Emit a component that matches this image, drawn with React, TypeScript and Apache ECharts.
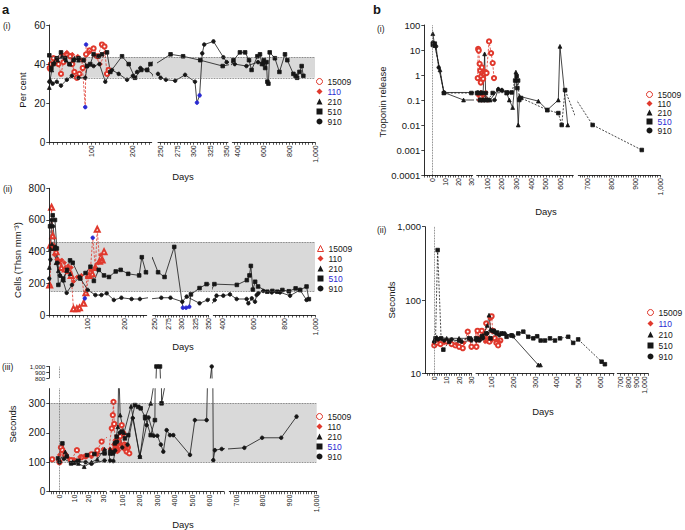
import React, { useEffect, useRef } from "react";
import * as echarts from "echarts";

const FONT = "'Liberation Sans', Arial, Helvetica, sans-serif";
const RED = "#e0392d";
const BLUE = "#2a2ad2";
const INK = "#161616";
const BAND_FILL = "#d9d9d9";

const SERIES_NAMES = ["15009", "110", "210", "510", "910"];

// ---------------- a(i) : Per cent ----------------
const AI_Y_TICKS = [0, 20, 40, 60];
const AI_BAND = [33, 43.5];
const AI_X1 = [100, 200];
const AI_X2 = [250, 275, 300, 325, 350];
const AI_X3 = [400, 600, 800, 1000];
const AI_15009 = [[1,38],[4,40],[10,43],[16,41],[22,40],[28,35],[34,41],[42,45],[50,44],[55,40],[60,36],[66,33],[72,35],[80,38],[88,45],[96,47],[106,48],[116,44],[126,50],[132,49],[138,35],[142,37]];
const AI_110 = [[1,37],[8,40],[18,43],[30,45],[42,46],[55,45],[68,44],[78,42],[86,18],[88,50],[96,46],[110,44],[122,40],[134,46]];
const AI_110_BLUE = [86, 88];
const AI_210 = [[0,28],[2,32],[6,37],[12,41],[20,42],[30,44],[40,42],[50,40],[60,43],[70,42]];
const AI_510 = [[0,44.5],[5,38],[10,40],[18,43],[28,46],[38,43],[48,40],[58,42],[70,43],[82,42],[90,39],[98,40],[106,45],[118,44],[126,45],[138,46],[146,36],[174,44],[190,40],[205,33],[220,37],[234,37],[242,40],[265,45],[284,44],[310,42],[344,39],[358,40],[370,42],[420,46],[460,46],[490,42],[510,37],[555,44],[575,45],[590,40],[605,42],[615,38],[625,41],[632,31],[640,30],[650,46],[690,43],[725,36],[768,45],[786,42],[833,35],[850,34],[862,33],[880,36],[897,39],[910,34]];
const AI_910 = [[0,31],[8,30],[18,31],[28,29],[42,32],[54,34],[70,33],[86,33],[91,39],[106,39],[120,40],[134,31],[150,37],[166,35],[186,32],[200,34],[210,36],[218,38],[234,37],[246,35],[250,33],[258,32],[272,31.5],[287,34.5],[302,31],[305,20.3],[309,24],[313,45.5],[316,50],[330,51.6],[345,43.5],[350,41],[380,40],[470,39],[560,41],[600,40]];
const AI_910_BLUE = [305, 309];

// ---------------- a(ii) : Cells ----------------
const AII_Y_TICKS = [0, 200, 400, 600, 800];
const AII_BAND = [150, 460];
const AII_X1 = [100, 200];
const AII_X2 = [250, 275, 300, 325, 350];
const AII_X3 = [400, 600, 800, 1000];
const AII_15009 = [[1,190],[3,440],[6,680],[9,500],[13,430],[18,400],[24,340],[32,300],[42,290],[52,280],[58,250],[64,40],[73,40],[80,45],[91,74],[97,140],[105,250],[114,260],[122,300],[127,542],[133,340],[140,347],[145,400]];
const AII_110 = [[2,189],[4,440],[8,420],[14,380],[20,350],[28,340],[33,347],[40,330],[50,310],[58,300],[64,211],[74,240],[85,250],[94,105],[100,240],[109,284],[115,488],[122,300],[130,330],[136,379],[140,350]];
const AII_110_BLUE = [94, 115];
const AII_210 = [[0,300],[3,420],[7,450],[12,420],[18,330],[24,280],[30,250],[38,220],[46,280],[55,260]];
const AII_510 = [[2,560],[9,630],[15,600],[20,420],[24,190],[37,230],[47,285],[55,345],[62,330],[82,230],[96,265],[109,305],[118,215],[131,285],[145,250],[158,240],[176,275],[189,285],[209,260],[238,250],[245,365],[256,270],[268,240],[286,430],[302,46],[308,46],[314,52],[317,130],[333,170],[346,195],[492,190],[557,220],[574,250],[583,310],[596,160],[611,210],[630,180],[690,147],[723,152],[755,147],[788,158],[830,150],[874,168],[903,158],[945,180],[960,100]];
const AII_510_BLUE = [302, 308, 314];
const AII_910 = [[0,230],[3,350],[6,600],[10,560],[16,430],[22,330],[28,250],[36,220],[46,140],[60,190],[80,240],[102,158],[122,126],[138,126],[152,137],[171,95],[191,109],[218,101],[240,101],[262,109],[279,109],[301,84],[309,116],[333,74],[348,95],[360,122],[404,122],[447,130],[491,101],[556,101],[567,74],[589,105],[610,84],[621,126],[632,137],[664,152],[719,143],[773,143],[838,122],[903,158],[945,95]];

// ---------------- a(iii) : Seconds ----------------
const AIII_Y_LOW = [0, 100, 200, 300];
const AIII_Y_HIGH = [800, 1000];
const AIII_Y_HIGH_MID = [900];
const AIII_BAND = [100, 300];
const AIII_X1 = [0, 10, 20, 30];
const AIII_X2 = [100, 200, 300, 400, 500, 600];
const AIII_X3 = [700, 800, 900, 1000];
const AIII_15009 = [[-5,110],[0,100],[1,150],[2,141],[4,125],[8,107],[12,141],[15,117],[18,120],[22,127],[26,140],[29,170],[40,215],[46,260],[50,305],[54,230],[60,160],[66,150],[72,141],[80,170],[88,188],[97,226],[106,198],[112,160],[118,145],[125,136],[132,150],[140,130]];
const AIII_110 = [[0,125],[3,135],[6,115],[10,110],[14,118],[18,120],[22,118],[26,125],[30,145],[42,140],[50,160],[58,175],[64,150],[72,135],[80,140],[90,160],[100,150],[108,145],[118,160],[126,150]];
const AIII_210 = [[0,106],[4,135],[9,100],[13,96],[17,85],[22,100],[26,110],[31,144],[45,130],[60,170],[75,220],[80,420],[88,260],[110,200],[150,290],[201,119],[230,250],[262,300],[290,400]];
const AIII_510 = [[-1,113],[2,164],[5,120],[8,96],[10,98],[13,105],[19,124],[24,128],[31,130],[49,134],[58,164],[68,187],[97,204],[115,181],[134,192],[172,294],[191,288],[205,283],[230,254],[262,192],[286,243],[295,1000],[315,1000],[324,300],[372,450]];
const AIII_910 = [[0,100],[3,112],[8,98],[12,103],[18,100],[22,95],[31,106],[49,104],[60,140],[72,170],[85,200],[100,150],[130,160],[160,250],[200,120],[239,226],[250,252],[280,190],[300,190],[320,160],[334,136],[353,209],[372,192],[391,192],[486,125],[514,243],[581,243],[610,1000],[619,107],[628,141],[667,145],[731,149],[797,183],[868,183],[925,255]];

// ---------------- b(i) : Troponin release ----------------
const BI_X1 = [0, 10, 20, 30];
const BI_X2 = [100, 200, 300, 400, 500, 600];
const BI_X3 = [700, 800, 900, 1000];
const BI_15009 = [[35,0.75],[38,11],[42,9.5],[48,2.8],[52,1.5],[56,0.5],[60,0.9],[64,2],[68,1.2],[72,0.7],[78,1.1],[85,1.3],[95,1.2],[112,22],[126,7.5],[137,3],[146,0.75]];
const BI_110 = [[38,0.15],[45,0.1],[55,0.2],[62,0.1],[70,0.15],[80,0.1],[90,0.2],[100,0.1],[110,0.1]];
const BI_210 = [[0.5,45],[2,15],[6,1.6],[9,0.2],[24,0.1],[50,0.1],[70,0.1],[82,7],[90,0.1],[120,0.1],[175,0.28],[198,0.25],[232,0.19],[250,0.1],[273,0.05],[295,1.3],[311,0.01],[320,0.14],[448,0.09],[509,0.04],[584,0.1],[595,14],[648,0.01]];
const BI_510 = [[0.5,16],[2,18],[9,0.19],[30,0.19],[40,0.19],[50,0.1],[62,0.19],[75,0.1],[90,0.19],[105,0.1],[137,0.19],[232,0.2],[266,0.2],[290,0.6],[300,0.9],[305,0.3],[310,0.6],[318,0.1],[330,0.12],[509,0.04],[584,0.03],[607,0.01],[630,0.25],[723,0.01],[925,0.001]];
const BI_910 = [[0.5,20],[3,14],[5,2],[9,0.2],[35,0.2],[60,0.2],[100,0.1],[150,0.1],[175,0.27],[200,0.25],[240,0.2]];

// ---------------- b(ii) : Seconds ----------------
const BII_X1 = [0, 10, 20, 30];
const BII_X2 = [100, 200, 300, 400, 500, 600];
const BII_X3 = [700, 800, 900, 1000];
const BII_15009 = [[0,24],[2,26],[5,25],[10,27],[14,25],[17,24],[20,23],[23,22],[27,37],[30,23],[35,38],[45,30],[55,38],[65,32],[75,48],[82,28],[90,27],[95,58],[100,60],[105,38],[115,30],[122,26],[130,24],[140,28]];
const BII_110 = [[0,26],[3,28],[8,26],[12,27],[18,25],[24,26],[29,28],[40,28],[55,30],[70,27],[85,30],[100,28],[120,28],[135,27]];
const BII_210 = [[0,28],[2,31],[10,30],[20,30],[30,30],[40,30],[60,33],[80,45],[88,62],[95,40],[110,38],[125,35],[150,35],[192,33],[315,13],[325,13]];
const BII_510 = [[1,30],[2.7,480],[5.5,30],[7.3,21],[12,27],[20,28],[28,30],[40,29],[55,32],[75,35],[95,30],[110,38],[125,36],[146,35],[169,31.5],[192,33],[223,35],[246,37],[269,31.5],[292,30],[310,32],[326,28],[346,28],[369,30],[392,28],[415,30],[453,31.5],[476,26],[499,29],[607,14.4],[622,13.3]];
const BII_910 = [[0,27],[3,29],[8,28],[14,29],[22,27],[30,28],[45,28],[60,30],[80,35],[100,38],[115,36],[135,33],[160,35],[200,32]];

// ---------------------------------------------------------------
type P = number[];
interface Seg { left: number; width: number; min: number; max: number; labels: number[]; step: number; }
interface Part { top: number; height: number; min: number; max: number; log?: boolean; labels?: number[]; extraLabels?: number[]; showX: boolean; font?: number; lineHeight?: number; }
interface SDef { name: string; data: P[]; blue?: number[]; }
interface Panel {
  segs: Seg[]; parts: Part[]; series: SDef[]; band?: number[]; vline?: number;
  legendLeft: number; legendTop: number; legendGap: number; blueName: string;
  symbolOverride?: Record<string, string>; bStyle?: boolean; yFont: number;
}

const STYLE: Record<string, { symbol: string; color: string; size: number; dashed: boolean }> = {
  "15009": { symbol: "emptyCircle", color: RED, size: 4.2, dashed: true },
  "110": { symbol: "diamond", color: RED, size: 4.2, dashed: true },
  "210": { symbol: "triangle", color: INK, size: 3.8, dashed: false },
  "510": { symbol: "rect", color: INK, size: 3.6, dashed: false },
  "910": { symbol: "circle", color: INK, size: 3.6, dashed: false },
};

function fmtNum(v: number): string {
  const n = Number(Number(v).toPrecision(6));
  if (Math.abs(n) >= 1000) return n.toLocaleString("en-US");
  return String(n);
}

function minorTicks(s: Seg): number[] {
  const out: number[] = [];
  const start = Math.ceil(s.min / s.step) * s.step;
  for (let v = start; v <= s.max + 1e-9; v += s.step) out.push(Math.round(v * 1000) / 1000);
  return out;
}

function buildOption() {
  const grid: any[] = [], xAxis: any[] = [], yAxis: any[] = [], series: any[] = [], legend: any[] = [];

  const addPanel = (p: Panel) => {
    const base = p.parts[0];
    if (p.band) {
      const first = p.segs[0], last = p.segs[p.segs.length - 1];
      const gi = grid.length;
      grid.push({ left: first.left, top: base.top, width: last.left + last.width - first.left, height: base.height, outerBoundsMode: "none" });
      const xi = xAxis.length;
      xAxis.push({ type: "value", gridIndex: gi, min: 0, max: 1, show: false });
      const yi = yAxis.length;
      yAxis.push({ type: "value", gridIndex: gi, min: base.min, max: base.max, show: false });
      series.push({
        type: "line", xAxisIndex: xi, yAxisIndex: yi, data: [[0.5, p.band[0]]], symbol: "none", showSymbol: false,
        lineStyle: { opacity: 0 }, z: 1, silent: true, animation: false,
        markArea: { silent: true, itemStyle: { color: BAND_FILL }, data: [[{ yAxis: p.band[0] }, { yAxis: p.band[1] }]] },
        markLine: { silent: true, symbol: ["none", "none"], label: { show: false },
          lineStyle: { type: "dotted", color: "#555", width: 0.8 }, data: [{ yAxis: p.band[0] }, { yAxis: p.band[1] }] },
      });
    }
    p.parts.forEach((part) => {
      p.segs.forEach((seg, si) => {
        const gi = grid.length;
        grid.push({ left: seg.left, top: part.top, width: seg.width, height: part.height, outerBoundsMode: "none" });
        const xi = xAxis.length;
        xAxis.push({
          type: "value", gridIndex: gi, min: seg.min, max: seg.max, z: 5,
          axisLine: { show: part.showX, onZero: false, lineStyle: { color: INK, width: 0.9 } },
          axisTick: { show: part.showX, customValues: minorTicks(seg), length: 2.5, lineStyle: { color: INK, width: 0.7 } },
          axisLabel: { show: part.showX, customValues: seg.labels, rotate: 90, fontSize: 7, margin: 3, color: INK, fontFamily: FONT,
            showMinLabel: true, showMaxLabel: true, formatter: (v: number) => fmtNum(v) },
          splitLine: { show: false },
        });
        const yi = yAxis.length;
        const yCommon: any = {
          gridIndex: gi, min: part.min, max: part.max, z: 5, position: "left",
          axisLine: { show: si === 0, onZero: false, lineStyle: { color: INK, width: 0.9 } },
          splitLine: { show: false },
        };
        if (part.log) {
          yAxis.push({ ...yCommon, type: "log", logBase: 10, interval: 1,
            axisTick: { show: si === 0, length: 3, lineStyle: { color: INK, width: 0.8 } },
            axisLabel: { show: si === 0, fontSize: p.yFont, margin: 4, color: INK, fontFamily: FONT,
              showMinLabel: true, showMaxLabel: true, formatter: (v: number) => fmtNum(v) },
            minorTick: { show: false } });
        } else {
          yAxis.push({ ...yCommon, type: "value",
            axisTick: { show: si === 0, customValues: part.labels, length: 3, lineStyle: { color: INK, width: 0.8 } },
            axisLabel: { show: si === 0, customValues: part.labels, fontSize: part.font ?? p.yFont, lineHeight: part.lineHeight,
              margin: 4, color: INK, fontFamily: FONT, showMinLabel: true, showMaxLabel: true, hideOverlap: false,
              formatter: (v: number) => fmtNum(v) } });
          if (part.extraLabels && si === 0) {
            yAxis.push({ ...yCommon, type: "value",
              axisLine: { show: false, onZero: false },
              axisTick: { show: true, customValues: part.extraLabels, length: 3, lineStyle: { color: INK, width: 0.8 } },
              axisLabel: { show: true, customValues: part.extraLabels, fontSize: part.font ?? p.yFont, lineHeight: part.lineHeight,
                margin: 4, color: INK, fontFamily: FONT, showMinLabel: true, showMaxLabel: true,
                formatter: (v: number) => fmtNum(v) } });
          }
        }
        p.series.forEach((s) => {
          const st = STYLE[s.name];
          const symbol = (p.symbolOverride && p.symbolOverride[s.name]) || st.symbol;
          let lineType: any = st.dashed ? [2.5, 1.5] : "solid";
          if (p.bStyle && s.name === "510") lineType = [2, 1.5];
          const size = symbol === "emptyTriangle" ? 5 : st.size;
          series.push({
            type: "line", name: s.name, xAxisIndex: xi, yAxisIndex: yi, clip: true, z: 3, animation: false,
            symbol, symbolSize: size, showSymbol: true,
            itemStyle: { color: st.color, borderColor: st.color, borderWidth: 0.8 },
            lineStyle: { color: st.color, width: 0.8, type: lineType },
            emphasis: { disabled: true },
            data: s.data.map((pt) =>
              s.blue && s.blue.includes(pt[0])
                ? { value: pt, symbol: "circle", symbolSize: 3.6, itemStyle: { color: BLUE, borderColor: BLUE } }
                : pt),
          });
        });
        if (p.vline !== undefined && si === 0) {
          series.push({
            type: "line", xAxisIndex: xi, yAxisIndex: yi, data: [[seg.min, part.max]], symbol: "none", showSymbol: false,
            lineStyle: { opacity: 0 }, silent: true, z: 2, animation: false,
            markLine: { silent: true, symbol: ["none", "none"], label: { show: false },
              lineStyle: { type: "dotted", color: "#555", width: 0.8 }, data: [{ xAxis: p.vline }] },
          });
        }
      });
    });
    legend.push({
      orient: "vertical", left: p.legendLeft, top: p.legendTop, itemWidth: 6, itemHeight: 6, itemGap: p.legendGap,
      selectedMode: false, padding: 0,
      textStyle: { fontSize: 8.5, fontFamily: FONT, color: INK, lineHeight: 8 },
      data: SERIES_NAMES.map((n) => {
        const st = STYLE[n];
        const icon = (p.symbolOverride && p.symbolOverride[n]) || st.symbol;
        const empty = icon.startsWith("empty");
        return {
          name: n,
          icon: empty ? icon.replace("empty", "").toLowerCase() : icon,
          itemStyle: empty ? { color: "#fff", borderColor: st.color, borderWidth: 1 } : { color: st.color, borderColor: st.color, borderWidth: 0 },
          textStyle: { color: n === p.blueName ? BLUE : INK },
        };
      }),
    });
  };

  // a(i)
  addPanel({
    parts: [{ top: 25, height: 117.3, min: 0, max: 60, labels: AI_Y_TICKS, showX: true }],
    segs: [
      { left: 49.3, width: 102.4, min: 0, max: 245, labels: AI_X1, step: 10 },
      { left: 158, width: 70, min: 246, max: 352, labels: AI_X2, step: 5 },
      { left: 232.3, width: 82.7, min: 361, max: 1000, labels: AI_X3, step: 25 },
    ],
    series: [
      { name: "15009", data: AI_15009 }, { name: "110", data: AI_110, blue: AI_110_BLUE },
      { name: "210", data: AI_210 }, { name: "510", data: AI_510 }, { name: "910", data: AI_910, blue: AI_910_BLUE },
    ],
    band: AI_BAND, legendLeft: 316, legendTop: 77, legendGap: 1, blueName: "110", yFont: 10,
  });

  // a(ii)
  addPanel({
    parts: [{ top: 188.3, height: 126.7, min: 0, max: 800, labels: AII_Y_TICKS, showX: true }],
    segs: [
      { left: 49.3, width: 97.4, min: 0, max: 258, labels: AII_X1, step: 10 },
      { left: 152.7, width: 56, min: 246, max: 350, labels: AII_X2, step: 5 },
      { left: 213.3, width: 101.7, min: 339, max: 1000, labels: AII_X3, step: 25 },
    ],
    series: [
      { name: "15009", data: AII_15009 }, { name: "110", data: AII_110, blue: AII_110_BLUE },
      { name: "210", data: AII_210 }, { name: "510", data: AII_510, blue: AII_510_BLUE }, { name: "910", data: AII_910 },
    ],
    band: AII_BAND, legendLeft: 317, legendTop: 244, legendGap: 1, blueName: "510", yFont: 10,
    symbolOverride: { "15009": "emptyTriangle" },
  });

  // a(iii)
  addPanel({
    parts: [
      { top: 388.6, height: 103.1, min: 0, max: 350, labels: AIII_Y_LOW, showX: true },
      { top: 366.5, height: 11.5, min: 800, max: 1000, labels: AIII_Y_HIGH, extraLabels: AIII_Y_HIGH_MID, showX: false, font: 6.2, lineHeight: 5 },
    ],
    segs: [
      { left: 49.3, width: 56.7, min: -7, max: 32, labels: AIII_X1, step: 2 },
      { left: 110, width: 114, min: 30, max: 680, labels: AIII_X2, step: 20 },
      { left: 229.3, width: 87.4, min: 675, max: 1000, labels: AIII_X3, step: 10 },
    ],
    series: [
      { name: "15009", data: AIII_15009 }, { name: "110", data: AIII_110 },
      { name: "210", data: AIII_210 }, { name: "510", data: AIII_510 }, { name: "910", data: AIII_910 },
    ],
    band: AIII_BAND, vline: 0, legendLeft: 316, legendTop: 412, legendGap: 1, blueName: "510", yFont: 10,
  });

  // b(i)
  addPanel({
    parts: [{ top: 25, height: 150, min: 0.0001, max: 100, log: true, showX: true }],
    segs: [
      { left: 424.3, width: 48.4, min: -6, max: 31, labels: BI_X1, step: 2 },
      { left: 476.7, width: 96.6, min: 28, max: 686, labels: BI_X2, step: 20 },
      { left: 578.3, width: 81.7, min: 664, max: 1000, labels: BI_X3, step: 10 },
    ],
    series: [
      { name: "15009", data: BI_15009 }, { name: "110", data: BI_110 },
      { name: "210", data: BI_210 }, { name: "510", data: BI_510 }, { name: "910", data: BI_910 },
    ],
    vline: 0, legendLeft: 646, legendTop: 90, legendGap: 0, blueName: "510", yFont: 9.5, bStyle: true,
  });

  // b(ii)
  addPanel({
    parts: [{ top: 226.7, height: 146.6, min: 10, max: 1000, log: true, showX: true }],
    segs: [
      { left: 425, width: 46.7, min: -7.5, max: 30.2, labels: BII_X1, step: 2 },
      { left: 476, width: 138, min: 28, max: 664, labels: BII_X2, step: 20 },
      { left: 617.3, width: 30.8, min: 656, max: 1050, labels: BII_X3, step: 50 },
    ],
    series: [
      { name: "15009", data: BII_15009 }, { name: "110", data: BII_110 },
      { name: "210", data: BII_210 }, { name: "510", data: BII_510 }, { name: "910", data: BII_910 },
    ],
    vline: 0, legendLeft: 647, legendTop: 308, legendGap: 2, blueName: "110", yFont: 9.5, bStyle: true,
  });

  const plain = (text: string, x: number, y: number, size: number, bold = false) => ({
    type: "text", x, y, silent: true,
    style: { text, fontSize: size, fontFamily: FONT, fontWeight: bold ? "bold" : "normal", fill: INK, align: "left", verticalAlign: "middle" },
  });
  const centered = (text: string, x: number, y: number, rot: boolean) => ({
    type: "text", x, y, rotation: rot ? Math.PI / 2 : 0, silent: true,
    style: { text, fontSize: 9.5, fontFamily: FONT, fill: INK, align: "center", verticalAlign: "middle" },
  });

  const elements = [
    plain("a", 2, 9, 13, true), plain("b", 373, 9, 13, true),
    plain("(i)", 3, 26, 8.5), plain("(ii)", 3, 189, 8.5), plain("(iii)", 2, 367, 8.5),
    plain("(i)", 377, 29, 8.5), plain("(ii)", 377, 230, 8.5),
    centered("Per cent", 22.5, 90, true),
    centered("Cells (Thsn mm⁻³)", 17, 260, true),
    centered("Seconds", 12, 424, true),
    centered("Troponin release", 382.5, 102, true),
    centered("Seconds", 391, 300, true),
    centered("Days", 183, 176, false), centered("Days", 183, 346, false), centered("Days", 183, 524, false),
    centered("Days", 546, 211, false), centered("Days", 543, 411, false),
  ];

  return { animation: false, backgroundColor: "#fff", grid, xAxis, yAxis, series, legend, graphic: { elements } };
}

export default function App() {
  const ref = useRef<HTMLDivElement>(null);
  useEffect(() => {
    if (!ref.current) return;
    const chart = echarts.init(ref.current, undefined, { renderer: "svg" });
    chart.setOption(buildOption() as any);
    return () => chart.dispose();
  }, []);
  return <div ref={ref} style={{ position: "absolute", left: 0, top: 0, width: 685, height: 530 }} />;
}
